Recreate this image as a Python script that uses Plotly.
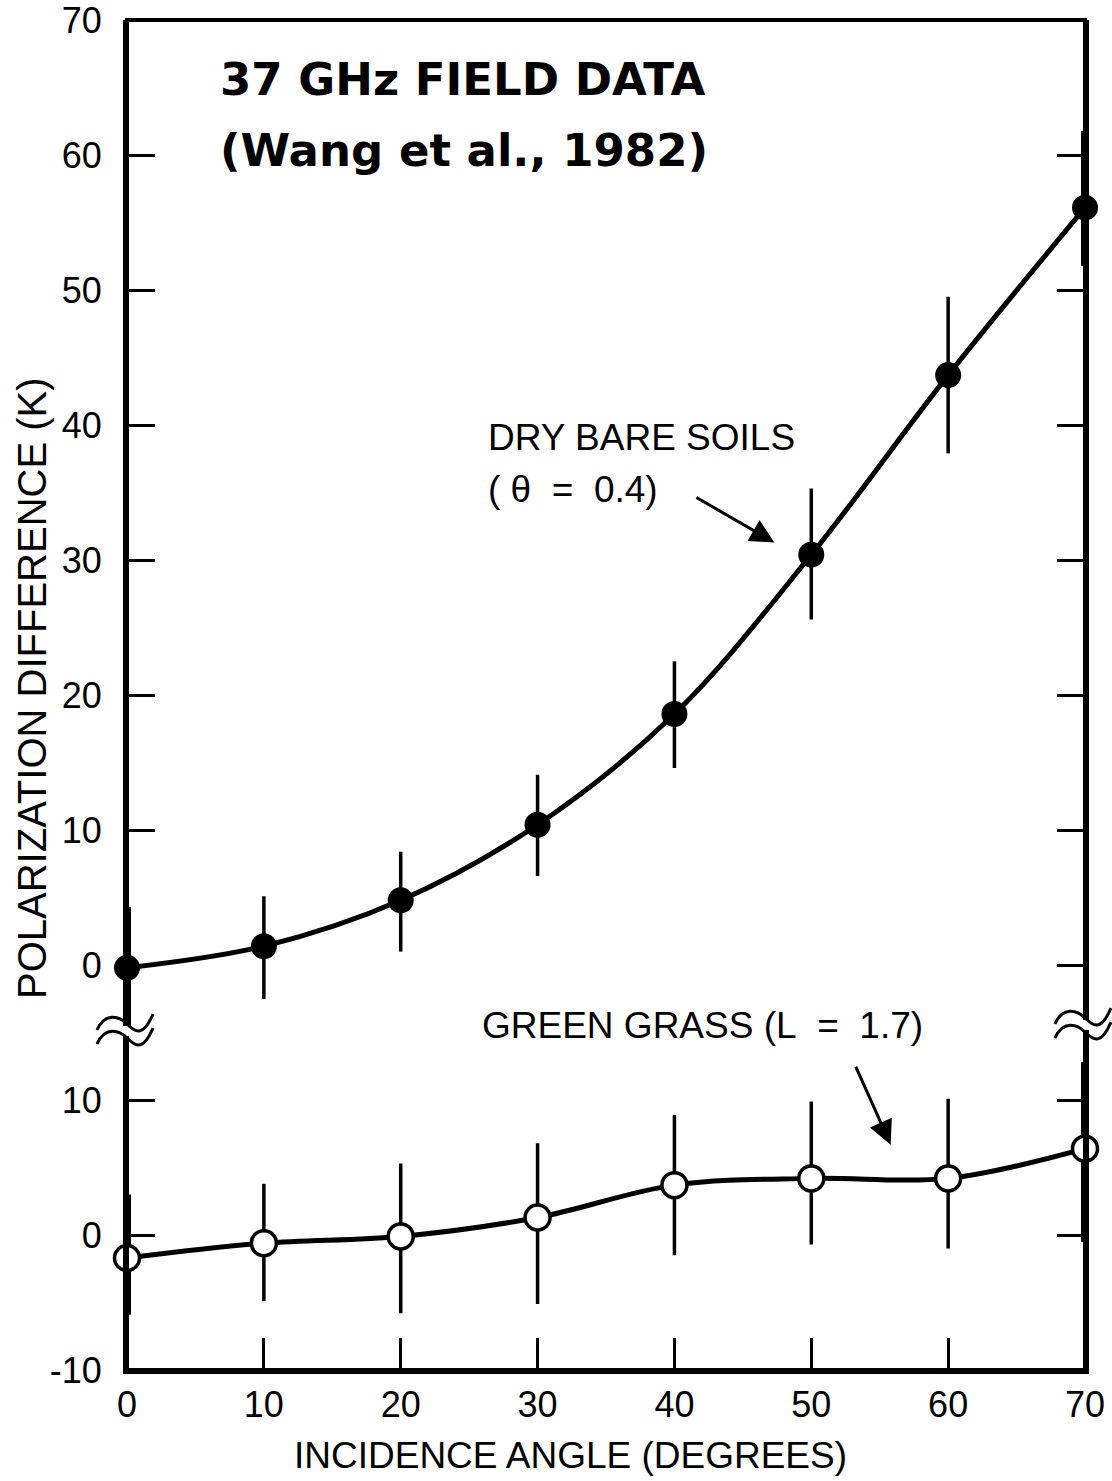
import plotly.graph_objects as go

# ---------------- data ----------------
angles = [0, 10, 20, 30, 40, 50, 60, 70]

dry_soil = [-0.2, 1.4, 4.8, 10.4, 18.6, 30.4, 43.7, 56.1]
dry_hi = [4.3, 5.1, 8.4, 14.1, 22.5, 35.3, 49.5, 61.8]
dry_lo = [-4.5, -2.5, 1.0, 6.6, 14.6, 25.6, 37.9, 51.8]

grass = [-1.7, -0.6, -0.1, 1.3, 3.7, 4.2, 4.2, 6.4]
grass_hi = [3.0, 3.8, 5.3, 6.8, 8.9, 9.9, 10.1, 12.8]
grass_lo = [-5.9, -4.9, -5.8, -5.1, -1.5, -0.7, -1.0, -0.5]

edge_idx = [0, 7]  # points lying on the frame (drawn with heavier bars)

upper_ticks = [0, 10, 20, 30, 40, 50, 60, 70]
lower_ticks = [-10, 0, 10]
lower_ticktext = ["-10", "0", "10"]
x_ticks = [0, 10, 20, 30, 40, 50, 60, 70]

# ---------------- layout geometry ----------------
W, H = 1112, 1481
ML, MR, MT, MB = 127, 27, 20, 111
PW, PH = W - ML - MR, H - MT - MB
BREAK = 0.2519  # lower panel fraction


def P(px, py):
    """pixel -> paper coordinates (for decoration only)"""
    return (px - ML) / PW, (H - MB - py) / PH


def err(vals, hi, lo, idx=None):
    ids = range(len(vals)) if idx is None else idx
    return ([hi[i] - vals[i] for i in ids], [vals[i] - lo[i] for i in ids])


FONT = "Liberation Sans, Arial, Helvetica, sans-serif"
BOLD = "DejaVu Sans, sans-serif"

fig = go.Figure()

# heavy error bars on the frame edges
for vals, hi, lo, ya in [(dry_soil, dry_hi, dry_lo, "y"), (grass, grass_hi, grass_lo, "y2")]:
    p, m = err(vals, hi, lo, edge_idx)
    fig.add_trace(go.Scatter(
        x=[angles[i] for i in edge_idx], y=[vals[i] for i in edge_idx],
        yaxis=ya, mode="markers", marker=dict(size=1, color="rgba(0,0,0,0)"),
        error_y=dict(type="data", array=p, arrayminus=m, thickness=8, width=0, color="black"),
        showlegend=False, hoverinfo="skip", cliponaxis=False))

p, m = err(dry_soil, dry_hi, dry_lo)
fig.add_trace(go.Scatter(
    x=angles, y=dry_soil, yaxis="y", mode="lines+markers",
    line=dict(color="black", width=5, shape="spline", smoothing=1),
    marker=dict(size=26, color="black", symbol="circle"),
    error_y=dict(type="data", array=p, arrayminus=m, thickness=3.5, width=0, color="black"),
    showlegend=False, cliponaxis=False, name="Dry bare soils"))

p, m = err(grass, grass_hi, grass_lo)
fig.add_trace(go.Scatter(
    x=angles, y=grass, yaxis="y2", mode="lines+markers",
    line=dict(color="black", width=5, shape="spline", smoothing=1),
    marker=dict(size=25, color="white", symbol="circle", line=dict(color="black", width=3.5)),
    error_y=dict(type="data", array=p, arrayminus=m, thickness=3.5, width=0, color="black"),
    showlegend=False, cliponaxis=False, name="Green grass"))

axis_common = dict(showline=True, linewidth=4, linecolor="black", mirror="ticks",
                   ticks="inside", ticklen=28, tickwidth=2.5, tickcolor="black",
                   showgrid=False, zeroline=False, automargin=False,
                   ticklabeloverflow="allow",
                   tickfont=dict(family=FONT, size=36, color="black"))

fig.update_layout(
    width=W, height=H,
    margin=dict(l=ML, r=MR, t=MT, b=MB),
    paper_bgcolor="white", plot_bgcolor="white",
    xaxis=dict(range=[0, 70], tickvals=x_ticks, anchor="y2", automargin=False,
               showline=True, linewidth=4, linecolor="black", mirror=False,
               ticks="inside", ticklen=32, tickwidth=2.5, tickcolor="black",
               showgrid=False, zeroline=False, ticklabelstandoff=0,
               ticklabeloverflow="allow",
               tickfont=dict(family=FONT, size=36, color="black")),
    yaxis=dict(domain=[BREAK, 1], range=[-4.8, 70], tickvals=upper_ticks,
               anchor="x", ticklabelstandoff=14, **axis_common),
    yaxis2=dict(domain=[0, BREAK], range=[-10, 15.2], tickvals=lower_ticks,
                ticktext=lower_ticktext, anchor="x", ticklabelstandoff=14, **axis_common),
)

shapes = []
# frame
shapes.append(dict(type="rect", xref="paper", yref="paper", x0=0, y0=0, x1=1, y1=1,
                   line=dict(color="black", width=4), layer="above"))


def wave_path(cx, cy, dy):
    pts = [(-30, 6), (-22, -12), (-8, -8), (0, 0), (16, 14), (26, -10)]
    conv = [P(cx + a, cy + b + dy) for a, b in pts]
    s = "M {:.5f},{:.5f} C {:.5f},{:.5f} {:.5f},{:.5f} {:.5f},{:.5f} S {:.5f},{:.5f} {:.5f},{:.5f}".format(
        *[c for xy in conv for c in xy])
    return s


for cx, cy in [(ML, 1024), (ML + PW, 1018)]:
    x0, y0 = P(cx - 6, cy + 2)
    x1, y1 = P(cx + 6, cy + 12)
    shapes.append(dict(type="rect", xref="paper", yref="paper", x0=x0, y0=y0, x1=x1, y1=y1,
                       fillcolor="white", line=dict(width=0), layer="above"))
    for dy in (0, 14):
        shapes.append(dict(type="path", xref="paper", yref="paper", path=wave_path(cx, cy, dy),
                           line=dict(color="black", width=3), layer="above"))
fig.update_layout(shapes=shapes)

ann = []


def text(s, px, py, size, family=FONT, xanchor="left", angle=0):
    x, y = P(px, py)
    ann.append(dict(text=s, x=x, y=y, xref="paper", yref="paper", xanchor=xanchor,
                    yanchor="middle", showarrow=False, textangle=angle,
                    font=dict(family=family, size=size, color="black")))


text("<b>37 GHz FIELD DATA</b>", 218, 80, 45, family=BOLD)
text("<b>(Wang et al., 1982)</b>", 218, 150, 45, family=BOLD)
text("DRY BARE SOILS", 486, 437, 37)
text("(\u00a0θ\u00a0\u00a0=\u00a0\u00a00.4)", 486, 490, 37)
text("GREEN GRASS (L\u00a0\u00a0=\u00a0\u00a01.7)", 480, 1025, 37)
text("INCIDENCE ANGLE (DEGREES)", 570, 1455, 37, xanchor="center")
text("POLARIZATION DIFFERENCE (K)", 32, 688, 40, xanchor="center", angle=-90)

# arrows
ann.append(dict(x=47.3, y=31.3, xref="x", yref="y", ax=41.5, ay=34.7, axref="x", ayref="y",
                showarrow=True, arrowhead=2, arrowsize=1.6, arrowwidth=3, arrowcolor="black", text=""))
ann.append(dict(x=55.8, y=6.7, xref="x", yref="y2", ax=53.2, ay=12.6, axref="x", ayref="y2",
                showarrow=True, arrowhead=2, arrowsize=1.6, arrowwidth=3, arrowcolor="black", text=""))
fig.update_layout(annotations=ann)

fig.write_html("out.html")
